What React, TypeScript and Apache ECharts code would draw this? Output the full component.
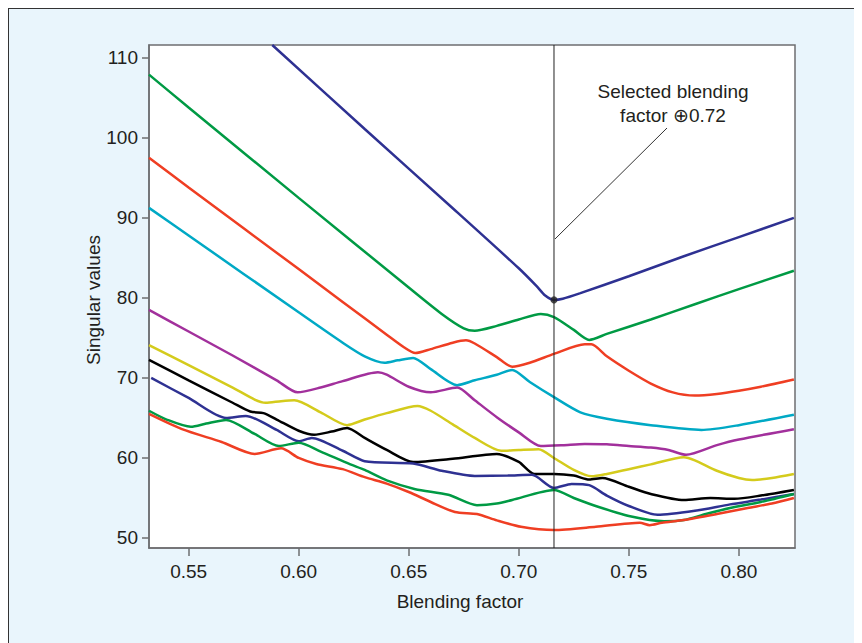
import React, { useEffect, useRef } from "react";
import * as echarts from "echarts";

const xTicks = [0.55, 0.6, 0.65, 0.7, 0.75, 0.8];
const yTicks = [50, 60, 70, 80, 90, 100, 110];

const sv1 = [[0.588,111.6],[0.63,101.1],[0.67,91.2],[0.70,83.7],[0.708,81.5],[0.712,80.3],[0.716,79.75],[0.72,79.9],[0.728,80.6],[0.75,82.7],[0.775,85.2],[0.80,87.6],[0.825,90.0]];
const sv2 = [[0.532,107.9],[0.55,103.8],[0.60,92.5],[0.65,81.3],[0.665,78.0],[0.675,76.2],[0.68,75.9],[0.69,76.5],[0.70,77.3],[0.71,78.0],[0.716,77.6],[0.725,76.0],[0.732,74.75],[0.74,75.5],[0.76,77.3],[0.78,79.2],[0.80,81.1],[0.825,83.4]];
const sv3 = [[0.532,97.5],[0.55,93.8],[0.60,83.6],[0.62,79.5],[0.64,75.4],[0.648,73.8],[0.653,73.1],[0.66,73.6],[0.67,74.4],[0.676,74.7],[0.68,74.3],[0.69,72.6],[0.697,71.4],[0.705,71.9],[0.716,73.0],[0.73,74.2],[0.733,74.2],[0.74,72.7],[0.75,70.9],[0.76,69.3],[0.77,68.2],[0.78,67.8],[0.79,68.0],[0.80,68.4],[0.81,68.9],[0.825,69.8]];
const sv4 = [[0.532,91.25],[0.55,87.8],[0.60,78.2],[0.62,74.4],[0.63,72.7],[0.639,71.9],[0.645,72.2],[0.652,72.5],[0.66,71.1],[0.672,69.1],[0.68,69.7],[0.69,70.4],[0.697,71.0],[0.705,69.5],[0.716,67.6],[0.728,65.7],[0.74,64.9],[0.76,64.1],[0.783,63.5],[0.80,64.1],[0.825,65.4]];
const sv5 = [[0.532,78.5],[0.55,75.8],[0.57,72.8],[0.59,69.7],[0.5995,68.2],[0.61,68.8],[0.62,69.6],[0.636,70.7],[0.64,70.4],[0.65,68.9],[0.66,68.2],[0.672,68.8],[0.68,67.2],[0.69,65.1],[0.70,63.2],[0.71,61.5],[0.72,61.6],[0.73,61.75],[0.74,61.7],[0.75,61.5],[0.76,61.3],[0.768,61.0],[0.776,60.4],[0.79,61.6],[0.80,62.3],[0.825,63.6]];
const sv6 = [[0.532,74.1],[0.55,71.6],[0.57,68.8],[0.58,67.3],[0.585,66.9],[0.592,67.1],[0.598,67.2],[0.61,65.7],[0.622,64.1],[0.63,64.8],[0.64,65.6],[0.654,66.5],[0.66,65.9],[0.67,64.2],[0.68,62.5],[0.692,60.9],[0.70,61.0],[0.709,61.1],[0.716,60.0],[0.725,58.5],[0.733,57.7],[0.74,58.0],[0.75,58.6],[0.76,59.2],[0.775,60.1],[0.78,59.7],[0.79,58.4],[0.80,57.5],[0.806,57.25],[0.815,57.5],[0.825,58.0]];
const sv7 = [[0.532,72.25],[0.55,69.7],[0.57,66.9],[0.578,65.8],[0.584,65.6],[0.59,64.8],[0.60,63.4],[0.607,62.9],[0.615,63.3],[0.622,63.75],[0.63,62.5],[0.64,61.0],[0.652,59.5],[0.67,59.9],[0.69,60.5],[0.70,59.5],[0.707,58.0],[0.716,58.0],[0.725,57.8],[0.732,57.3],[0.738,57.5],[0.75,56.4],[0.76,55.5],[0.775,54.75],[0.787,55.0],[0.798,54.9],[0.81,55.3],[0.825,56.0]];
const sv8 = [[0.533,70.0],[0.55,67.5],[0.567,65.0],[0.576,65.25],[0.59,63.5],[0.60,62.1],[0.606,62.5],[0.62,60.9],[0.63,59.6],[0.652,59.3],[0.665,58.4],[0.68,57.75],[0.695,57.8],[0.706,57.9],[0.716,56.25],[0.724,56.75],[0.732,56.6],[0.74,55.3],[0.75,54.0],[0.763,52.9],[0.78,53.4],[0.796,54.2],[0.81,54.8],[0.825,55.5]];
const sv9 = [[0.532,65.9],[0.54,64.8],[0.551,63.9],[0.558,64.3],[0.567,64.75],[0.58,63.0],[0.591,61.5],[0.60,61.9],[0.61,60.8],[0.623,59.25],[0.63,58.5],[0.64,57.2],[0.653,56.1],[0.668,55.4],[0.681,54.1],[0.69,54.3],[0.697,54.75],[0.716,56.0],[0.725,55.0],[0.736,53.9],[0.75,52.75],[0.766,52.1],[0.775,52.25],[0.785,53.0],[0.796,53.75],[0.81,54.5],[0.825,55.5]];
const sv10 = [[0.532,65.5],[0.547,63.6],[0.565,62.0],[0.58,60.5],[0.592,61.2],[0.60,60.0],[0.608,59.25],[0.62,58.6],[0.63,57.6],[0.64,56.8],[0.65,55.75],[0.66,54.5],[0.671,53.25],[0.681,53.0],[0.69,52.2],[0.701,51.4],[0.716,51.0],[0.735,51.4],[0.755,51.9],[0.7595,51.6],[0.765,51.9],[0.775,52.25],[0.79,53.0],[0.804,53.75],[0.815,54.3],[0.825,55.0]];

const curves = [sv1, sv2, sv3, sv4, sv5, sv6, sv7, sv8, sv9, sv10];
const colors = ["#2e3192", "#009a44", "#ef3e23", "#00a9c5", "#a2309c", "#d4cb1c", "#000000", "#2e3192", "#009a44", "#ef3e23"];

const xMin = 0.532, xMax = 0.8255, yMin = 48.75, yMax = 111.6;
const selectedX = 0.716;
const selectedY = 79.75;
const annotationLines = ["Selected blending", "factor \u22950.72"];

const FONT = "'Liberation Sans', Arial, sans-serif";
const TXT = "#231f20";
const FS = 19;

export default function App() {
  const ref = useRef<HTMLDivElement>(null);
  useEffect(() => {
    const chart = echarts.init(ref.current!, null, { renderer: "svg" });
    const series: any[] = curves.map((c, i) => ({
      type: "line",
      data: c,
      smooth: 0.25,
      symbol: "none",
      lineStyle: { color: colors[i], width: 2.5 },
      z: 3,
    }));
    series.push({
      type: "line",
      data: [[selectedX, yMin], [selectedX, yMax]],
      symbol: "none",
      lineStyle: { color: "#222", width: 1 },
      z: 4,
    });
    series.push({
      type: "scatter",
      data: [[selectedX, selectedY]],
      symbolSize: 7,
      itemStyle: { color: "#222" },
      z: 5,
    });
    chart.setOption({
      animation: false,
      backgroundColor: "#e9f5fc",
      textStyle: { fontFamily: FONT },
      grid: {
        left: 141, top: 37, right: 67, bottom: 95,
        show: true, backgroundColor: "#ffffff", borderColor: "#6d6e70", borderWidth: 1.5,
      },
      xAxis: {
        type: "value", min: xMin, max: xMax,
        axisLine: { show: true, lineStyle: { color: "#6d6e70", width: 1.5 } },
        axisTick: { show: true, length: 8, lineStyle: { color: "#6d6e70", width: 1.5 }, customValues: xTicks },
        axisLabel: { customValues: xTicks, formatter: (v: number) => v.toFixed(2), fontSize: FS, color: TXT, margin: 14, fontFamily: FONT },
        splitLine: { show: false },
      },
      yAxis: {
        type: "value", min: yMin, max: yMax,
        axisLine: { show: true, lineStyle: { color: "#6d6e70", width: 1.5 } },
        axisTick: { show: true, length: 7, lineStyle: { color: "#6d6e70", width: 1.5 }, customValues: yTicks },
        axisLabel: { customValues: yTicks, fontSize: FS, color: TXT, margin: 11, fontFamily: FONT },
        splitLine: { show: false },
      },
      graphic: [
        { type: "line", shape: { x1: 0, y1: 0.5, x2: 854, y2: 0.5 }, style: { stroke: "#333", lineWidth: 1 } },
        { type: "line", shape: { x1: 0.5, y1: 0, x2: 0.5, y2: 635 }, style: { stroke: "#333", lineWidth: 1 } },
        { type: "text", x: 452, y: 593, style: { text: "Blending factor", font: `${FS}px ${FONT}`, fill: TXT, align: "center", verticalAlign: "middle" } },
        { type: "text", x: 85, y: 292, rotation: Math.PI / 2, style: { text: "Singular values", font: `${FS}px ${FONT}`, fill: TXT, align: "center", verticalAlign: "middle" } },
        { type: "text", x: 665, y: 83, style: { text: annotationLines[0], font: `${FS}px ${FONT}`, fill: TXT, align: "center", verticalAlign: "middle" }, z: 10 },
        { type: "text", x: 665, y: 107, style: { text: annotationLines[1], font: `${FS}px ${FONT}`, fill: TXT, align: "center", verticalAlign: "middle" }, z: 10 },
        { type: "line", shape: { x1: 659, y1: 120, x2: 547, y2: 231 }, style: { stroke: "#333", lineWidth: 1 }, z: 10 },
      ],
      series,
    });
    return () => chart.dispose();
  }, []);
  return <div ref={ref} style={{ width: 854, height: 635 }} />;
}
